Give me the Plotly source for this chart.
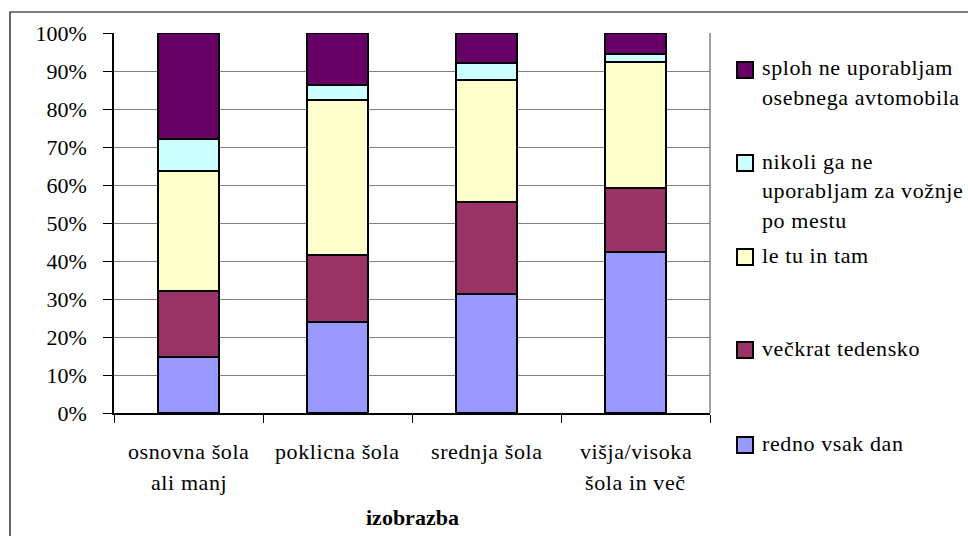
import plotly.graph_objects as go

# ---------------- data ----------------
categories = ["osnovna šola<br>ali manj", "poklicna šola", "srednja šola", "višja/visoka<br>šola in več"]
series_names = [
    "redno vsak dan",
    "večkrat tedensko",
    "le tu in tam",
    "nikoli ga ne<br>uporabljam za vožnje<br>po mestu",
    "sploh ne uporabljam<br>osebnega avtomobila",
]
redno = [14.8, 23.9, 31.4, 42.4]
veckrat = [17.4, 17.6, 24.2, 16.8]
le_tu = [31.6, 41.0, 32.1, 33.3]
nikoli = [8.3, 3.7, 4.3, 2.1]
sploh = [27.9, 13.8, 8.0, 5.4]
series_values = [redno, veckrat, le_tu, nikoli, sploh]
colors = ["#9999FF", "#993366", "#FFFFCC", "#CCFFFF", "#660066"]
y_ticks = [0, 10, 20, 30, 40, 50, 60, 70, 80, 90, 100]
x_title = "izobrazba"

FONT = "'Times New Roman', 'Liberation Serif', 'DejaVu Serif', serif"
FS = 22
SPACED = "<span style='letter-spacing:0.6px'>{}</span>"

# ---------------- layout geometry (page pixels; body margin removed) ----------------
W, H = 968, 536
L, R, T, B = 114, 258, 33, 123
PW = W - L - R
PH = H - T - B


def px2x(px):  # page pixel -> paper x
    return (px - L) / PW


def py2y(py):  # page pixel -> paper y
    return (H - B - py) / PH


fig = go.Figure()
cat_ids = list(range(len(categories)))
for name, vals, col in zip(series_names, series_values, colors):
    fig.add_trace(go.Bar(
        x=cat_ids, y=vals, name=name.replace("<br>", " "),
        marker=dict(color=col, line=dict(color="black", width=2)),
        hoverinfo="skip",
    ))

annotations = []
# category labels, line by line
for i, cat in enumerate(categories):
    for j, line in enumerate(cat.split("<br>")):
        annotations.append(dict(
            x=i, xref="x", y=py2y(451 + 32 * j), yref="paper",
            text=SPACED.format(line), showarrow=False, xanchor="center", yanchor="middle",
            font=dict(family=FONT, size=FS, color="black"),
        ))
annotations.append(dict(
    x=0.5, xref="paper", y=py2y(517), yref="paper",
    text="<b>" + x_title + "</b>", showarrow=False, xanchor="center", yanchor="middle",
    font=dict(family=FONT, size=FS, color="black"),
))

# manual legend (top to bottom: reversed series)
legend_first_line = [68, 161, 255, 348, 443]
shapes = []
for k, idx in enumerate(reversed(range(len(series_names)))):
    y0 = legend_first_line[k]
    shapes.append(dict(
        type="rect", xref="paper", yref="paper",
        x0=px2x(737), x1=px2x(753), y0=py2y(y0 - 6), y1=py2y(y0 + 10),
        fillcolor=colors[idx], line=dict(color="black", width=2),
    ))
    for j, line in enumerate(series_names[idx].split("<br>")):
        annotations.append(dict(
            x=px2x(760), xref="paper", y=py2y(y0 + 29.5 * j), yref="paper",
            text=SPACED.format(line), showarrow=False, xanchor="left", yanchor="middle",
            font=dict(family=FONT, size=FS, color="black"),
        ))

# right border of plot area
shapes.append(dict(type="line", xref="paper", yref="paper", x0=1, x1=1, y0=0, y1=1,
                   line=dict(color="#808080", width=1.5)))
# outer chart border
shapes.append(dict(type="rect", xref="paper", yref="paper",
                   x0=px2x(10), x1=px2x(W + 60), y0=py2y(H + 60), y1=py2y(12),
                   line=dict(color="black", width=1.2), fillcolor="rgba(0,0,0,0)", layer="below"))

fig.update_layout(
    width=W, height=H,
    margin=dict(l=L, r=R, t=T, b=B, pad=0),
    barmode="stack",
    bargap=0.59,
    plot_bgcolor="white", paper_bgcolor="white",
    showlegend=False,
    font=dict(family=FONT, size=FS, color="black"),
    annotations=annotations,
    shapes=shapes,
    xaxis=dict(
        type="linear", range=[-0.5, len(categories) - 0.5],
        tickmode="array", tickvals=[i - 0.5 for i in range(len(categories) + 1)],
        showticklabels=False, ticks="outside", ticklen=8, tickcolor="black", tickwidth=1.2,
        showline=True, linecolor="black", linewidth=1.5, showgrid=False, zeroline=False,
        fixedrange=True,
    ),
    yaxis=dict(
        range=[0, 100], tickmode="array", tickvals=y_ticks,
        ticktext=[f"{v}%" for v in y_ticks],
        ticks="outside", ticklen=9, tickcolor="black", tickwidth=1.2,
        ticklabelstandoff=12,
        showline=True, linecolor="black", linewidth=1.5,
        showgrid=True, gridcolor="#808080", gridwidth=1.2, zeroline=False,
        tickfont=dict(family=FONT, size=FS, color="black"),
        fixedrange=True,
    ),
)

fig.write_html(
    "out.html",
    config={"displayModeBar": False},
    post_script="document.body.style.margin='0';document.body.style.overflow='hidden';",
)
